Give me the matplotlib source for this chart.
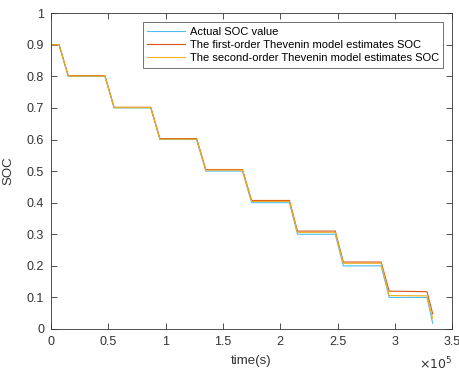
import matplotlib
matplotlib.use("Agg")
import matplotlib.pyplot as plt

# break points of the discharge profile (seconds)
time_s = [0, 0.07e5, 0.15e5, 0.47e5, 0.55e5, 0.87e5, 0.95e5, 1.27e5, 1.35e5,
          1.67e5, 1.75e5, 2.08e5, 2.15e5, 2.48e5, 2.55e5, 2.88e5, 2.95e5,
          3.28e5, 3.33e5]

soc_actual = [0.9, 0.9, 0.8, 0.8, 0.7, 0.7, 0.6, 0.6, 0.5, 0.5, 0.4, 0.4,
              0.3, 0.3, 0.2, 0.2, 0.1, 0.1, 0.018]
soc_first = [0.9, 0.9, 0.802, 0.802, 0.702, 0.702, 0.603, 0.603, 0.505, 0.505,
             0.407, 0.407, 0.31, 0.31, 0.212, 0.212, 0.12, 0.118, 0.048]
soc_second = [0.9, 0.9, 0.801, 0.801, 0.701, 0.701, 0.601, 0.601, 0.503, 0.503,
              0.404, 0.404, 0.306, 0.306, 0.208, 0.208, 0.106, 0.105, 0.033]

labels = ["Actual SOC value",
          "The first-order Thevenin model estimates SOC",
          "The second-order Thevenin model estimates SOC"]

x_ticks = [0, 0.5e5, 1e5, 1.5e5, 2e5, 2.5e5, 3e5, 3.5e5]
x_ticklabels = ["0", "0.5", "1", "1.5", "2", "2.5", "3", "3.5"]
y_ticks = [0, 0.1, 0.2, 0.3, 0.4, 0.5, 0.6, 0.7, 0.8, 0.9, 1]
y_ticklabels = ["0", "0.1", "0.2", "0.3", "0.4", "0.5", "0.6", "0.7", "0.8", "0.9", "1"]

plt.rcParams["font.family"] = ["Liberation Sans", "DejaVu Sans"]

fig = plt.figure(figsize=(4.6, 3.72), dpi=100)
fig.patch.set_facecolor("white")
ax = fig.add_axes([0.111, 0.1156, 0.872, 0.849])

ax.plot(time_s, soc_actual, color="#4DBEEE", lw=0.8, label=labels[0])
ax.plot(time_s, soc_first, color="#D95319", lw=0.8, label=labels[1])
ax.plot(time_s, soc_second, color="#EDB120", lw=0.8, label=labels[2])

ax.set_xlim(0, 3.5e5)
ax.set_ylim(0, 1)
ax.set_xticks(x_ticks)
ax.set_xticklabels(x_ticklabels)
ax.set_yticks(y_ticks)
ax.set_yticklabels(y_ticklabels)

axis_col = "#333333"
ax.tick_params(direction="in", length=4, width=0.6, colors=axis_col,
               labelsize=9, top=True, right=True, pad=5)
for sp in ax.spines.values():
    sp.set_color(axis_col)
    sp.set_linewidth(0.6)

ax.set_xlabel("time(s)", fontsize=9.5, color=axis_col, labelpad=5)
ax.set_ylabel("SOC", fontsize=9.5, color=axis_col, labelpad=9)
ax.text(1.0, -0.085, r"$\times10^{5}$", transform=ax.transAxes,
        ha="right", va="top", fontsize=9, color=axis_col)

leg = ax.legend(loc="upper right", bbox_to_anchor=(0.9776, 0.9715), fontsize=8.0,
                frameon=True, fancybox=False, edgecolor=axis_col,
                handlelength=3.4, handletextpad=0.4, borderpad=0.4,
                labelspacing=0.3, borderaxespad=0)
leg.get_frame().set_linewidth(0.6)

fig.savefig("out.png", dpi=100, facecolor="white")
